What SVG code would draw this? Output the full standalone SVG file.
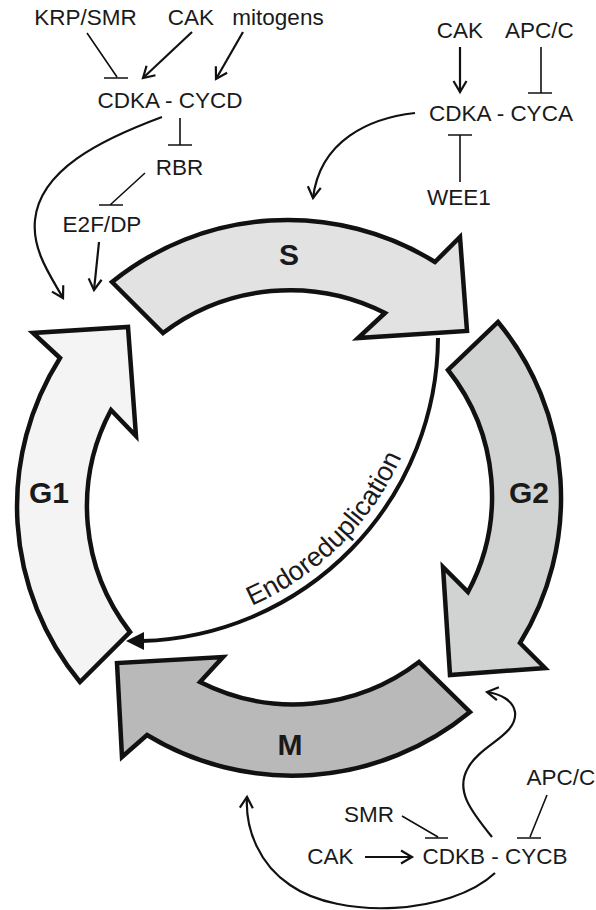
<svg xmlns="http://www.w3.org/2000/svg" width="596" height="910" viewBox="0 0 596 910">
<style>
.lbl{font-family:"Liberation Sans",Arial,sans-serif;font-size:22.5px;fill:#1a1a1a;text-anchor:middle}
.big{font-family:"Liberation Sans",Arial,sans-serif;font-size:30px;font-weight:bold;fill:#1a1a1a;text-anchor:middle}
.phase{stroke:#111;stroke-width:4.5;stroke-linejoin:miter}
.act{fill:none;stroke:#111;stroke-width:2.2}
.inh{fill:none;stroke:#111;stroke-width:1.6}
</style>
<defs>
<marker id="open" viewBox="-13 -8 16 16" refX="0" refY="0" markerWidth="16" markerHeight="16" markerUnits="userSpaceOnUse" orient="auto">
<path d="M-11,-6.5 L0,0 L-11,6.5" fill="none" stroke="#111" stroke-width="2.2"/>
</marker>
<path id="endoPath" d="M187,626 A294,294 0 0 0 426,362" fill="none"/>
</defs>
<rect width="596" height="910" fill="#ffffff"/>

<g id="phase-S">
<path class="phase" fill="#e2e2e2" d="M112,282 A280,280 0 0 1 435,262 L460,237 L467,331 L358,338 L385,313 A210,210 0 0 0 163,333 Z"/>
<text class="big" x="289" y="265">S</text>
</g>
<g id="phase-G2">
<path class="phase" fill="#d1d3d2" d="M498,322 A277,277 0 0 1 520,643 L545,668 L450,675 L443,567 L468,592 A203,203 0 0 0 448,370 Z"/>
<text class="big" x="529" y="503">G2</text>
</g>
<g id="phase-M">
<path class="phase" fill="#b9b9b9" d="M470,712 A280,280 0 0 1 147,735 L122,757 L117,663 L223,657 L200,682 A207,207 0 0 0 419,662 Z"/>
<text class="big" x="290" y="755">M</text>
</g>
<g id="phase-G1">
<path class="phase" fill="#f4f4f4" d="M80,682 A277,277 0 0 1 60,358 L33,333 L128,327 L136,436 L111,410 A205,205 0 0 0 130,632 Z"/>
<text class="big" x="49" y="503">G1</text>
</g>

<g id="endoreduplication">
<path d="M438,338 A305,305 0 0 1 142,641" fill="none" stroke="#111" stroke-width="4"/>
<polygon points="126,641 144,632 144,650" fill="#111"/>
<text font-family="Liberation Sans, Arial, sans-serif" font-size="27" fill="#1a1a1a"><textPath href="#endoPath" startOffset="68">Endoreduplication</textPath></text>
</g>

<g id="n-krp-smr"><text class="lbl" x="85.5" y="25">KRP/SMR</text></g>
<g id="n-cak1"><text class="lbl" x="191" y="25">CAK</text></g>
<g id="n-mitogens"><text class="lbl" x="278" y="25">mitogens</text></g>
<g id="n-cdka-cycd"><text class="lbl" x="170" y="108">CDKA - CYCD</text></g>
<g id="n-rbr"><text class="lbl" x="179.5" y="175">RBR</text></g>
<g id="n-e2f"><text class="lbl" x="102" y="232">E2F/DP</text></g>
<g id="n-cak2"><text class="lbl" x="460" y="38">CAK</text></g>
<g id="n-apcc1"><text class="lbl" x="539.5" y="38">APC/C</text></g>
<g id="n-cdka-cyca"><text class="lbl" x="501" y="121">CDKA - CYCA</text></g>
<g id="n-wee1"><text class="lbl" x="459" y="205">WEE1</text></g>
<g id="n-apcc2"><text class="lbl" x="561" y="785">APC/C</text></g>
<g id="n-smr"><text class="lbl" x="369" y="822">SMR</text></g>
<g id="n-cak3"><text class="lbl" x="330.5" y="864">CAK</text></g>
<g id="n-cdkb-cycb"><text class="lbl" x="495" y="864">CDKB - CYCB</text></g>

<g id="connectors">
<path class="inh" d="M87,33 L117,77 M104,78 L128,78"/>
<path class="act" d="M192,32 L143,78" marker-end="url(#open)"/>
<path class="act" d="M243,32 L216,79" marker-end="url(#open)"/>
<path class="inh" d="M180,118 L180,145 M168,145 L192,145"/>
<path class="inh" d="M145,173 L110,205 M99,205 L123,205"/>
<path class="act" d="M99,242 L94,290" marker-end="url(#open)"/>
<path class="act" d="M162,117 C100,140 40,170 35,220 C32,250 50,275 63,298" marker-end="url(#open)"/>

<path class="act" d="M460,47 L460,92" marker-end="url(#open)"/>
<path class="inh" d="M541,47 L541,93 M528,93 L552,93"/>
<path class="inh" d="M460,182 L460,135 M448,135 L472,135"/>
<path class="act" d="M415,113 C370,118 320,140 313,198" marker-end="url(#open)"/>

<path class="inh" d="M402,816 L438,837 M425,838 L448,838"/>
<path class="inh" d="M547,795 L530,837 M517,838 L541,838"/>
<path class="act" d="M365,857 L412,857" marker-end="url(#open)"/>
<path class="act" d="M492,837 C470,810 455,790 468,768 C480,745 518,735 515,712 C513,700 500,694 487,692" marker-end="url(#open)"/>
<path class="act" d="M495,873 C450,915 340,920 290,885 C260,865 245,830 247,797" marker-end="url(#open)"/>
</g>
</svg>
